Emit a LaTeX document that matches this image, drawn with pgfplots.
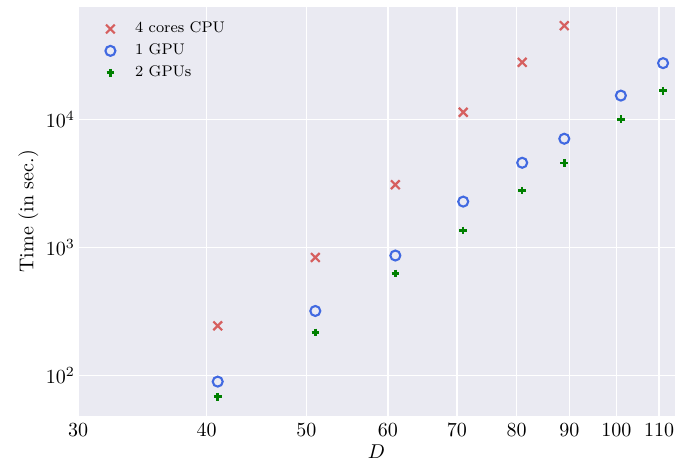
\documentclass[border=0pt]{standalone}
\usepackage{pgfplots}
\pgfplotsset{compat=1.18}

\definecolor{panelbg}{HTML}{EAEAF2}
\definecolor{cpured}{HTML}{D65F5F}
\definecolor{gpublue}{HTML}{4169E1}
\definecolor{gpugreen}{HTML}{008000}

% legend image: a single mark, with a fixed-width invisible box behind it
\pgfplotsset{
  markleg/.style={legend image code/.code={%
    \path[draw=none,fill=none] (0pt,0pt) -- (15.35pt,0pt);
    \draw[##1,only marks] plot coordinates {(5pt,0pt)};}},
}

\begin{document}
\begin{tikzpicture}
\begin{axis}[
  name=ax,
  scale only axis,
  width=298.5pt, height=204.35pt,
  xmode=log, ymode=log,
  xmin=30, xmax=114, ymin=48.8, ymax=75100,
  xtick={30,40,50,60,70,80,90,100,110},
  xticklabels={30,40,50,60,70,80,90,100,110},
  ytick={100,1000,10000},
  minor xtick={}, minor ytick={},
  axis background/.style={fill=panelbg},
  axis line style={draw=none},
  tick style={draw=none},
  grid=major,
  major grid style={white, line width=0.75pt},
  tick label style={font=\fontsize{10}{12}\selectfont},
  yticklabel style={xshift=2pt},
  xlabel={$D$}, ylabel={Time (in sec.)},
  label style={font=\fontsize{10}{12}\selectfont},
  xlabel style={at={(axis description cs:0.5,-0.0888)}, anchor=center},
  ylabel style={at={(axis description cs:-0.083,0.5)}, anchor=center, rotate=0},
  legend style={at={(axis description cs:0.0268,0.9836)}, anchor=north west,
    draw=none, fill=none, font=\fontsize{7.7}{9}\selectfont,
    cells={anchor=west}, row sep=0pt},
]
\addplot[only marks, mark=x, mark size=3.1pt, line width=1.1pt, color=cpured, markleg]
  coordinates {(41,245)(51,836)(61,3090)(71,11340)(81,27800)(89,53700)};
\addlegendentry{4 cores CPU}
\addplot[only marks, mark=o, mark size=2.5pt, line width=1.05pt, color=gpublue, markleg]
  coordinates {(41,90)(51,320)(61,866)(71,2280)(81,4580)(89,7050)(101,15300)(111,27400)};
\addlegendentry{1 GPU}
\addplot[only marks, mark=+, mark size=1.9pt, line width=1.25pt, color=gpugreen, markleg]
  coordinates {(41,68.6)(51,218)(61,628)(71,1356)(81,2780)(89,4580)(101,10000)(111,16700)};
\addlegendentry{2 GPUs}
\end{axis}
\pgfresetboundingbox
\path (ax.south west) ++(-39pt,-25.65pt) coordinate (bbA);
\path (ax.north east) ++(6.5pt,3.5pt) coordinate (bbB);
\path[use as bounding box] (bbA) rectangle (bbB);
\end{tikzpicture}
\end{document}
